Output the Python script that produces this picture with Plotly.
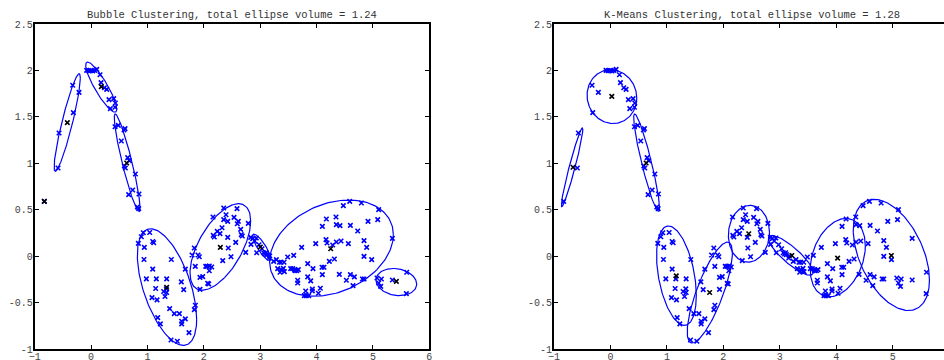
import numpy as np
import plotly.graph_objects as go

# ---- sample points (shared by both clusterings) ----
pts_x = [
    -0.568, -0.326, -0.314, -0.214, -0.586,
    -0.829,
    -0.078, -0.042, -0.007, 0.029, 0.064, 0.100, 0.159, 0.177, 0.236, 0.277, 0.318, 0.342, 0.401, 0.431, 0.425,
    0.425, 0.484, 0.537, 0.585, 0.602, 0.650, 0.679, 0.590, 0.608, 0.786, 0.667, 0.738, 0.850, 0.821, 0.845,
    0.839, 0.892, 0.927, 1.040, 0.945, 0.939, 1.093, 1.111, 1.093, 0.981, 1.158, 1.341, 1.146, 1.081, 1.170,
    1.288, 1.341, 1.312, 1.424, 1.394, 1.477, 1.566, 1.601, 1.643, 1.672, 1.182, 1.229, 1.607, 1.607, 1.672,
    1.737, 1.832, 1.850, 1.418, 1.530, 1.335,
    2.353, 2.589, 2.163, 2.394, 2.353, 2.536, 2.424, 2.612, 2.594, 2.789, 2.323, 2.239, 2.287, 2.168, 2.186,
    2.424, 2.654, 2.665, 2.683, 2.566, 2.434, 2.482, 2.743, 2.335, 1.831, 1.791, 1.897, 1.920, 1.849, 2.034,
    2.062, 2.097, 2.140, 2.097, 1.932, 1.980, 2.069, 2.087, 1.932,
    2.832, 2.867, 2.903, 2.931, 2.837, 2.979, 3.032, 2.938, 3.062, 3.085, 3.103, 3.116, 3.169, 3.157,
    4.475, 4.588, 4.795, 5.102, 4.174, 4.345, 4.103, 4.351, 4.416, 4.600, 4.730, 4.913, 5.085,
    3.985, 4.168, 4.186, 4.286, 4.351, 4.434, 4.564, 4.842, 4.889, 5.345, 3.736,
    3.594, 3.488, 4.227, 4.316, 3.843, 4.842, 4.978,
    3.239, 3.287, 3.340, 3.370, 3.423, 3.310, 3.370, 3.411, 3.352, 3.429, 3.541, 3.577, 3.612, 3.677, 3.618,
    3.648, 3.937, 4.097, 4.132,
    4.103, 4.404, 4.600, 4.671, 4.529, 4.813, 4.842, 4.647, 3.843, 3.665, 3.665, 3.896, 3.807, 3.925, 3.925,
    4.067, 4.032, 3.783, 3.819, 3.860,
    5.073, 5.150, 5.102, 5.138, 5.345, 5.599, 5.593,
]
pts_y = [
    1.326, 1.840, 1.545, 1.764, 0.949,
    0.590,
    2.001, 1.998, 1.998, 1.994, 2.001, 2.012, 1.954, 1.868, 1.814, 1.796, 1.685, 1.588, 1.696, 1.649, 1.603,
    1.394, 1.409, 1.240, 1.359, 1.373, 1.061, 1.028, 0.971, 0.949, 0.885, 0.662, 0.712, 0.669, 0.529, 0.511,
    0.137, 0.209, 0.252, 0.255, 0.094, -0.036, 0.158, 0.144, -0.140, -0.245, -0.245, -0.245, -0.349, -0.446, -0.471,
    -0.381, -0.392, -0.435, -0.036, -0.565, -0.619, -0.619, -0.277, -0.360, -0.140, -0.662, -0.730, -0.701, -0.730, -0.676,
    -0.824, -0.576, -0.529, -0.903, -0.917, -0.353,
    0.519, 0.511, 0.422, 0.446, 0.393, 0.417, 0.374, 0.374, 0.349, 0.353, 0.306, 0.267, 0.242, 0.224, 0.206,
    0.202, 0.288, 0.231, 0.217, 0.148, 0.088, -0.006, 0.040, -0.049, 0.088, 0.012, 0.012, -0.006, -0.110, -0.110,
    -0.110, -0.106, -0.117, -0.157, -0.229, -0.221, -0.293, -0.300, -0.358,
    0.202, 0.188, 0.163, 0.195, 0.127, 0.123, 0.080, 0.037, 0.037, 0.023, 0.037, 0.016, 0.002, -0.020,
    0.544, 0.590, 0.572, 0.501, 0.400, 0.422, 0.321, 0.339, 0.328, 0.332, 0.271, 0.375, 0.393,
    0.135, 0.178, 0.142, 0.120, 0.152, 0.163, 0.135, 0.167, 0.095, 0.192, 0.095,
    0.009, -0.009, -0.056, -0.031, -0.081, -0.002, -0.038,
    -0.056, -0.038, -0.066, -0.066, -0.066, -0.135, -0.145, -0.131, -0.174, -0.167, -0.135, -0.135, -0.145, -0.145, -0.156,
    -0.156, -0.135, -0.120, -0.120,
    -0.199, -0.196, -0.199, -0.224, -0.260, -0.246, -0.246, -0.318, -0.224, -0.260, -0.289, -0.267, -0.375, -0.354, -0.375,
    -0.346, -0.400, -0.425, -0.425, -0.425,
    -0.235, -0.246, -0.289, -0.325, -0.257, -0.174, -0.404,
]

# ---- bubble clustering ----
bub_center_x = [-0.421, -0.829, 0.182, 0.632, 1.341, 2.293, 3.002, 4.251, 5.416]
bub_center_y = [1.438, 0.590, 1.825, 1.003, -0.335, 0.094, 0.099, 0.080, -0.271]
# ellipse: centre, half-extent along x, half-extent along y, correlation
bub_ell_cx = [-0.423, 0.180, 0.640, 1.347, 2.293, 3.027, 4.265, 5.415]
bub_ell_cy = [1.439, 1.820, 1.006, -0.333, 0.099, 0.095, 0.086, -0.279]
bub_ell_sx = [0.233, 0.275, 0.228, 0.526, 0.538, 0.160, 1.097, 0.361]
bub_ell_sy = [0.526, 0.270, 0.525, 0.628, 0.466, 0.142, 0.518, 0.146]
bub_ell_rho = [0.91, -0.88, -0.92, -0.55, 0.60, -0.85, 0.28, -0.15]
bub_title = "Bubble Clustering, total ellipse volume = 1.24"

# ---- k-means clustering ----
km_center_x = [-0.663, 0.024, 0.632, 1.166, 1.757, 2.450, 3.213, 4.024, 4.976]
km_center_y = [0.957, 1.721, 1.003, -0.212, -0.392, 0.241, 0.007, -0.022, 0.007]
km_ell_cx = [-0.680, 0.026, 0.640, 1.169, 1.760, 2.453, 3.195, 4.027, 4.976]
km_ell_cy = [0.956, 1.718, 1.006, -0.210, -0.392, 0.241, 0.009, -0.016, 0.013]
km_ell_sx = [0.190, 0.440, 0.228, 0.352, 0.400, 0.364, 0.395, 0.488, 0.675]
km_ell_sy = [0.424, 0.290, 0.525, 0.535, 0.543, 0.306, 0.214, 0.422, 0.599]
km_ell_rho = [0.96, -0.05, -0.92, -0.40, 0.78, 0.05, -0.85, 0.30, -0.45]
km_title = "K-Means Clustering, total ellipse volume = 1.28"

x_ticks = [-1, 0, 1, 2, 3, 4, 5, 6]
y_ticks = [-1, -0.5, 0, 0.5, 1, 1.5, 2, 2.5]
y_tick_text = ["-1", "-0.5", "0", "0.5", "1", "1.5", "2", "2.5"]

FONT = "Liberation Mono, Courier New, monospace"
BLUE = "#0000ff"


def ellipse_path(cx, cy, sx, sy, rho, n=160):
    t = np.linspace(0, 2 * np.pi, n)
    xs, ys = [], []
    for a, b, c, d, r in zip(cx, cy, sx, sy, rho):
        xs += list(a + c * np.cos(t)) + [None]
        ys += list(b + d * (r * np.cos(t) + np.sqrt(1 - r * r) * np.sin(t))) + [None]
    return xs, ys


def cross_marker(color):
    return dict(symbol="x-thin-open", size=4.5, color=color, line=dict(color=color, width=1.6))


fig = go.Figure()

panels = [
    ("x", "y", bub_center_x, bub_center_y, bub_ell_cx, bub_ell_cy, bub_ell_sx, bub_ell_sy, bub_ell_rho),
    ("x2", "y2", km_center_x, km_center_y, km_ell_cx, km_ell_cy, km_ell_sx, km_ell_sy, km_ell_rho),
]
for xa, ya, ccx, ccy, ecx, ecy, esx, esy, erho in panels:
    ex, ey = ellipse_path(ecx, ecy, esx, esy, erho)
    fig.add_trace(go.Scatter(x=ex, y=ey, mode="lines", line=dict(color=BLUE, width=1.2),
                             xaxis=xa, yaxis=ya, hoverinfo="skip"))
    fig.add_trace(go.Scatter(x=pts_x, y=pts_y, mode="markers", marker=cross_marker(BLUE),
                             xaxis=xa, yaxis=ya))
    fig.add_trace(go.Scatter(x=ccx, y=ccy, mode="markers", marker=cross_marker("black"),
                             xaxis=xa, yaxis=ya))

W, H = 944, 360
left_dom = [34.7 / W, 429.3 / W]
right_dom = [554.0 / W, 1.0]
right_end = -1 + (W - 554.0) / 56.45

axis_common = dict(showgrid=False, zeroline=False, showline=True, linecolor="black", linewidth=1.8,
                   ticks="inside", ticklen=4, tickcolor="black", tickwidth=1, automargin=False,
                   tickfont=dict(family=FONT, size=10, color="#444"))

fig.update_layout(
    width=W, height=H,
    margin=dict(l=0, r=0, t=24, b=11, autoexpand=False),
    paper_bgcolor="white", plot_bgcolor="white",
    showlegend=False,
    xaxis=dict(domain=left_dom, range=[-1, 6], tickvals=x_ticks, mirror="ticks", anchor="y",
               ticklabelstandoff=-3, **axis_common),
    yaxis=dict(domain=[0, 1], range=[-1, 2.5], tickvals=y_ticks, ticktext=y_tick_text, mirror="ticks",
               anchor="x", ticklabelstandoff=-2, **axis_common),
    xaxis2=dict(domain=right_dom, range=[-1, right_end], tickvals=x_ticks, mirror="ticks", anchor="y2",
                ticklabelstandoff=-3, **axis_common),
    yaxis2=dict(domain=[0, 1], range=[-1, 2.5], tickvals=y_ticks, ticktext=y_tick_text, mirror=False,
                anchor="x2", ticklabelstandoff=-2, **axis_common),
    annotations=[
        dict(text=bub_title, xref="paper", yref="paper", x=232.0 / W, y=1 + 9.5 / 325, showarrow=False,
             xanchor="center", yanchor="middle", font=dict(family=FONT, size=10.5, color="#333")),
        dict(text=km_title, xref="paper", yref="paper", x=751.8 / W, y=1 + 9.5 / 325, showarrow=False,
             xanchor="center", yanchor="middle", font=dict(family=FONT, size=10.5, color="#333")),
    ],
)

fig.write_html("out.html")
